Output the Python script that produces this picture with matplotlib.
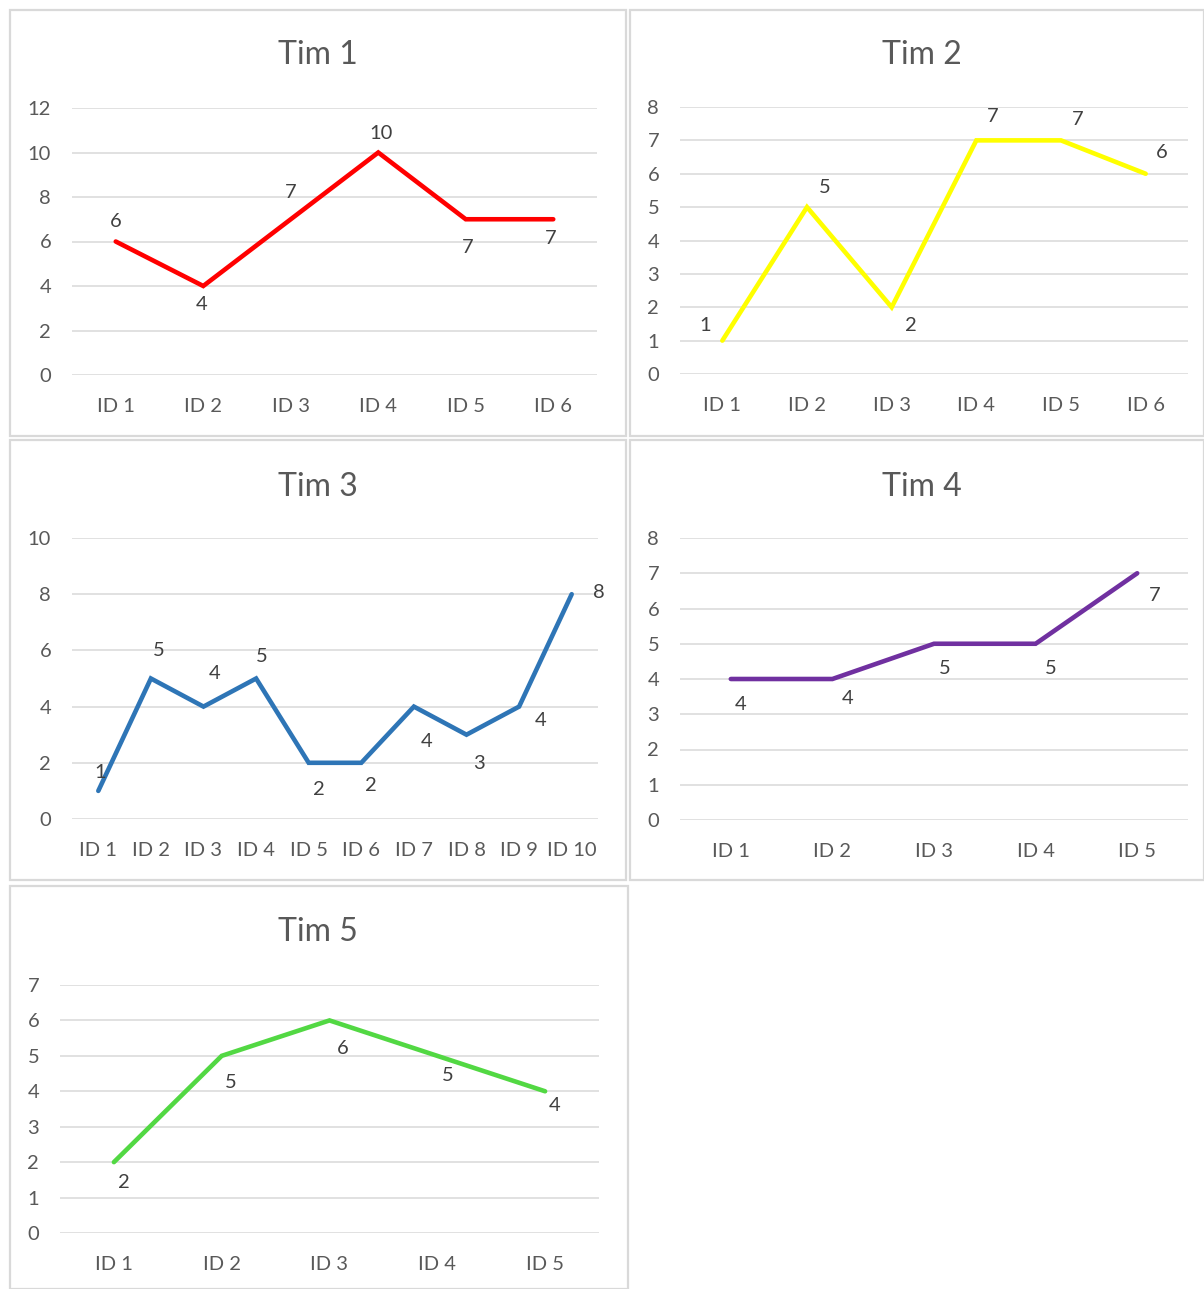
import numpy as np
import matplotlib
matplotlib.use('Agg')
from matplotlib import pyplot as plt
from matplotlib.patches import Rectangle

# data for the five teams
titles = ['Tim 1', 'Tim 2', 'Tim 3', 'Tim 4', 'Tim 5']
ids_1 = ['ID 1', 'ID 2', 'ID 3', 'ID 4', 'ID 5', 'ID 6']
ids_2 = ['ID 1', 'ID 2', 'ID 3', 'ID 4', 'ID 5', 'ID 6']
ids_3 = ['ID 1', 'ID 2', 'ID 3', 'ID 4', 'ID 5', 'ID 6', 'ID 7', 'ID 8', 'ID 9', 'ID 10']
ids_4 = ['ID 1', 'ID 2', 'ID 3', 'ID 4', 'ID 5']
ids_5 = ['ID 1', 'ID 2', 'ID 3', 'ID 4', 'ID 5']
vals_1 = [6, 4, 7, 10, 7, 7]
vals_2 = [1, 5, 2, 7, 7, 6]
vals_3 = [1, 5, 4, 5, 2, 2, 4, 3, 4, 8]
vals_4 = [4, 4, 5, 5, 7]
vals_5 = [2, 5, 6, 5, 4]

W, H = 1204, 1289
fig = plt.figure(figsize=(W / 100, H / 100), dpi=100)
plt.rcParams['font.family'] = ['Lato', 'DejaVu Sans']

def fx(x):
    return x / W

def fy(y):
    return 1 - y / H

# panel frames (pixels: left, top, right, bottom)
frames = [(10, 10, 626, 436), (630, 10, 1204, 436), (10, 440, 626, 880),
          (630, 440, 1204, 880), (10, 886, 628, 1289)]
for l, t, r, b in frames:
    fig.patches.append(Rectangle((fx(l), fy(b)), fx(r - l), (b - t) / H,
                                 transform=fig.transFigure, fill=False,
                                 edgecolor='#d9d9d9', linewidth=1.6))

# plot areas (pixels: left, top, right, bottom)
areas = [(72, 108, 597, 375), (680, 107, 1188, 374), (72, 538, 598, 819),
         (680, 538, 1188, 820), (60, 985, 599, 1233)]
ymaxes = [12, 8, 10, 8, 7]
ysteps = [2, 1, 2, 1, 1]
colors = ['#ff0000', '#ffff00', '#2e75b6', '#7030a0', '#52d843']
title_pos = [(318, 55), (922, 55), (318, 487), (922, 487), (318, 932)]

# label offsets in pixels (dx, dy down)
offs = [
    [(0, -20), (-2, 19), (0, -27), (3, -19), (2, 28), (-3, 19)],
    [(-17, -15), (18, -20), (19, 18), (16, -24), (17, -21), (16, -21)],
    [(2, -18), (8, -28), (11, -33), (6, -22), (10, 27), (10, 23), (13, 35),
     (12, 29), (22, 14), (27, -2)],
    [(10, 25), (15, 20), (11, 25), (15, 25), (17, 22)],
    [(10, 20), (9, 27), (13, 28), (10, 20), (10, 14)],
]

all_ids = [ids_1, ids_2, ids_3, ids_4, ids_5]
all_vals = [vals_1, vals_2, vals_3, vals_4, vals_5]

for i in range(5):
    l, t, r, b = areas[i]
    ax = fig.add_axes([fx(l), fy(b), fx(r - l), (b - t) / H])
    x = np.arange(len(all_ids[i]))
    ax.plot(x, all_vals[i], color=colors[i], linewidth=3.3,
            solid_capstyle='round', solid_joinstyle='miter', zorder=3)
    for xi, v, (dx, dy) in zip(x, all_vals[i], offs[i]):
        ax.annotate(str(v), (xi, v), xytext=(dx, -dy), textcoords='offset pixels',
                    ha='center', va='center', fontsize=14.5, color='#404040')
    ax.set_xlim(-0.5, len(x) - 0.5)
    ax.set_ylim(0, ymaxes[i])
    ax.set_yticks(np.arange(0, ymaxes[i] + 1, ysteps[i]))
    ax.set_xticks(x)
    ax.set_xticklabels(all_ids[i])
    ax.tick_params(length=0, labelsize=14.5, labelcolor='#595959')
    ax.tick_params(axis='y', pad=15)
    ax.tick_params(axis='x', pad=16.5)
    ax.grid(axis='y', color='#d9d9d9', linewidth=1.1)
    ax.set_axisbelow(True)
    for s in ax.spines.values():
        s.set_visible(False)
    ax.patch.set_alpha(0)
    tx, ty = title_pos[i]
    fig.text(fx(tx), fy(ty), titles[i], ha='center', va='center',
             fontsize=23, color='#595959')

fig.savefig('out.png', dpi=100)
